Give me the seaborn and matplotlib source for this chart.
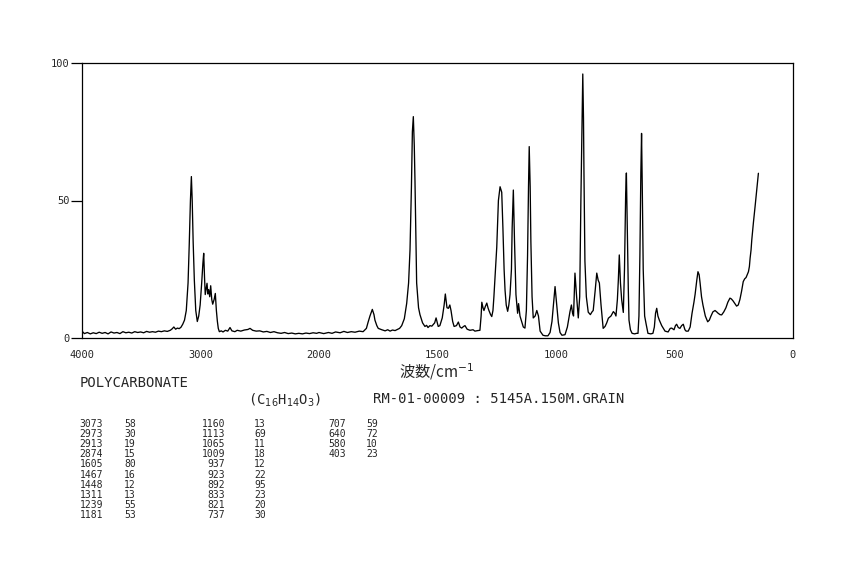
import numpy as np
import pandas as pd
import matplotlib
matplotlib.use("Agg")
import matplotlib.pyplot as plt
from matplotlib.ticker import FixedLocator
import seaborn as sns

# ---------------- data ----------------
wavenumber = [
    4000, 3980, 3955, 3930, 3905, 3880, 3855, 3830, 3805, 3780, 3755, 3730, 3705, 3680,
    3655, 3630, 3605, 3580, 3555, 3530, 3505, 3480, 3455, 3430, 3405, 3380, 3355, 3330,
    3305, 3280, 3255, 3240, 3225, 3210, 3195, 3180, 3165, 3150, 3135, 3120, 3105, 3095,
    3085, 3077, 3070, 3062, 3052, 3040, 3027, 3015, 3003, 2990, 2980, 2973, 2966, 2960,
    2952, 2945, 2938, 2931, 2922, 2914, 2905, 2897, 2885, 2875, 2866, 2858, 2850, 2841,
    2825, 2810, 2790, 2770, 2751, 2735, 2710, 2690, 2660, 2630, 2600, 2582, 2560, 2530,
    2500, 2470, 2440, 2410, 2380, 2350, 2320, 2290, 2260, 2230, 2200, 2170, 2140, 2110,
    2080, 2050, 2020, 2000, 1980, 1960, 1945, 1930, 1911, 1895, 1880, 1864, 1848, 1830,
    1814, 1800, 1793, 1785,
    1775, 1768, 1764, 1756, 1750, 1735, 1721, 1710, 1700, 1690, 1679, 1660, 1651, 1640,
    1630, 1622,
    1616, 1610, 1606, 1602, 1598, 1595, 1591, 1588, 1580, 1574, 1563, 1553, 1546, 1540,
    1532, 1524,
    1512, 1506, 1497, 1490, 1480, 1472, 1467, 1460, 1454, 1448, 1443, 1436, 1430, 1420,
    1412, 1405, 1398, 1390, 1384, 1375, 1363, 1350, 1342, 1330, 1321, 1316, 1313, 1308,
    1304, 1298, 1292, 1287, 1283, 1276, 1271, 1266, 1262, 1256, 1250, 1243, 1236, 1229,
    1224, 1219, 1215, 1210, 1204, 1199, 1194, 1188, 1185, 1180, 1175, 1169, 1162, 1158,
    1152, 1145, 1138, 1131, 1125, 1120, 1116, 1113, 1109, 1106, 1101, 1096, 1088, 1081,
    1074, 1067, 1055, 1045, 1034, 1025, 1017, 1010, 1004, 997, 990, 983, 975, 962,
    952, 941, 935, 930, 926, 920, 913, 906, 900, 895, 890, 887, 884, 882,
    878, 872, 864, 855, 848, 843, 835, 828, 822, 817, 810, 801, 793, 786,
    779, 768, 758, 752, 747, 741, 737, 733, 728, 723, 716, 711, 706, 703,
    699, 695, 692, 686, 679, 668, 660, 654, 650, 646, 642, 639, 636, 632,
    626, 620, 612, 600, 591, 585, 580, 575, 570, 564, 554, 540, 527, 518,
    512, 502, 496, 491, 484, 477, 470, 463, 456, 451, 442, 434, 426, 418,
    413, 406, 401, 396, 392, 386, 380, 370, 360, 353, 346, 338, 329, 322,
    316, 308, 301, 292, 283, 275, 266, 260, 253, 245, 238, 231, 224, 217,
    210, 204, 198, 193, 188, 184, 181, 177, 174, 167, 160, 153, 146,
]
intensity = [
    2.5, 1.6, 2.0, 1.5, 1.9, 1.6, 2.1, 1.7, 2.0, 1.5, 2.2, 1.8, 2.0, 1.6,
    2.3, 1.9, 2.1, 1.8, 2.3, 2.0, 2.2, 1.9, 2.4, 2.1, 2.3, 2.1, 2.5, 2.3,
    2.6, 2.4, 2.8, 3.3, 4.0, 3.2, 3.6, 3.4, 3.9, 5.0, 6.5, 10.0, 20.0, 34.0,
    50.0, 58.7, 50.0, 35.0, 21.0, 10.0, 6.0, 8.0, 12.0, 20.0, 27.0, 30.8, 22.0, 15.8,
    18.0, 19.9, 16.0, 17.6, 15.0, 19.0, 14.0, 12.3, 14.0, 16.2, 10.0, 6.2, 3.5, 2.3,
    2.6, 2.2, 2.8, 2.5, 3.8, 2.6, 2.3, 2.8, 2.5, 2.9, 3.1, 3.5, 2.8, 2.5,
    2.6, 2.2, 2.4, 2.0, 2.3, 1.9, 1.7, 2.0, 1.6, 1.8, 1.5, 1.7, 1.5, 1.8,
    1.6, 1.9, 1.7, 2.0, 1.6, 2.0, 1.7, 2.2, 1.9, 2.4, 2.0, 2.3, 2.1, 2.5,
    2.3, 3.5, 5.7, 8.0,
    10.4, 8.5, 6.5, 4.5, 3.5, 3.0, 2.6, 3.0, 2.5, 2.9, 2.7, 3.5, 4.5, 7.0,
    12.6, 20.0,
    32.0, 55.0, 75.0, 80.5, 70.0, 57.0, 35.0, 20.0, 11.0, 8.5, 5.5, 4.2, 4.6, 3.8,
    4.5, 4.3,
    5.5, 7.3, 4.2, 4.5, 7.3, 12.0, 16.0, 11.0, 10.8, 12.0, 10.0, 6.0, 4.2, 4.5,
    5.8, 4.0, 3.6, 4.2, 4.5, 3.2, 2.8, 3.0, 2.5, 2.7, 2.8, 8.0, 13.0, 11.0,
    10.0, 11.5, 12.7, 11.0, 10.0, 8.5, 7.8, 10.0, 15.0, 24.0, 33.0, 50.0, 55.0, 53.0,
    40.0, 25.0, 17.4, 12.0, 9.7, 12.0, 15.8, 25.0, 40.0, 53.8, 35.0, 15.8, 9.0, 12.5,
    8.0, 6.0, 4.0, 3.6, 10.0, 30.0, 55.0, 69.6, 55.0, 35.0, 15.0, 7.3, 8.0, 10.0,
    8.0, 2.5, 1.0, 0.8, 0.8, 2.0, 6.0, 13.0, 18.7, 12.0, 5.5, 2.0, 1.0, 1.2,
    4.0, 9.6, 12.0, 9.0, 8.0, 23.6, 15.0, 7.3, 15.0, 50.0, 80.0, 96.0, 80.0, 60.0,
    28.0, 15.0, 9.4, 8.5, 9.5, 10.0, 17.0, 23.6, 21.0, 20.0, 12.0, 3.5, 4.2, 5.5,
    7.2, 8.0, 9.6, 9.0, 8.0, 14.0, 21.0, 30.2, 20.0, 14.0, 9.3, 25.0, 52.6, 60.0,
    39.0, 18.0, 6.5, 3.0, 1.7, 1.5, 1.7, 1.7, 8.0, 30.0, 60.0, 74.4, 55.0, 25.0,
    8.0, 5.2, 1.7, 1.5, 1.7, 4.0, 9.0, 10.8, 8.0, 6.5, 4.5, 2.5, 2.2, 3.5,
    3.6, 3.0, 4.5, 5.0, 3.8, 3.5, 4.5, 5.0, 3.0, 2.5, 2.5, 4.0, 9.0, 13.0,
    15.9, 21.0, 24.1, 23.0, 20.0, 15.0, 12.0, 8.0, 5.9, 6.5, 8.0, 9.5, 10.0, 9.5,
    9.0, 8.5, 8.4, 9.5, 11.0, 13.0, 14.5, 14.2, 13.5, 12.5, 11.6, 12.0, 14.0, 17.0,
    20.5, 21.5, 22.0, 23.0, 24.1, 26.0, 29.0, 32.0, 35.6, 42.0, 47.8, 54.0, 59.9,
]

peak_wavenumbers = [3073, 2973, 2913, 2874, 1605, 1467, 1448, 1311, 1239, 1181,
                    1160, 1113, 1065, 1009, 937, 923, 892, 833, 821, 737,
                    707, 640, 580, 403]
peak_intensities = [58, 30, 19, 15, 80, 16, 12, 13, 55, 53,
                    13, 69, 11, 18, 12, 22, 95, 23, 20, 30,
                    59, 72, 10, 23]

x_major_ticks = [4000, 3000, 2000, 1500, 1000, 500, 0]
x_minor_ticks = list(range(0, 4001, 100))
y_ticks = [0, 50, 100]

compound_name = "POLYCARBONATE"
formula = r"(C$_{16}$H$_{14}$O$_{3}$)"
sample_info = "RM-01-00009 : 5145A.150M.GRAIN"
x_label = "波数/cm$^{-1}$"

# ---------------- figure ----------------
sns.set_style("white")
plt.rcParams["font.family"] = ["DejaVu Sans Mono", "Noto Sans CJK JP"]
plt.rcParams["mathtext.fontset"] = "dejavusans"

W, H = 850, 567
fig = plt.figure(figsize=(W / 100, H / 100), dpi=100)
L, R, T, B = 82, 793, 63, 338
ax = fig.add_axes([L / W, 1 - B / H, (R - L) / W, (B - T) / H])


def fwd(x):
    x = np.asarray(x, dtype=float)
    return np.where(x <= 2000, x, 2000 + (x - 2000) / 2.0)


def inv(u):
    u = np.asarray(u, dtype=float)
    return np.where(u <= 2000, u, 2000 + (u - 2000) * 2.0)


df = pd.DataFrame({"wn": wavenumber, "I": intensity})
sns.lineplot(data=df, x="wn", y="I", ax=ax, color="black", linewidth=0.95,
             estimator=None, sort=False)

ax.set_xscale("function", functions=(fwd, inv))
ax.set_xlim(4000, 0)
ax.set_ylim(0, 100)
ax.xaxis.set_major_locator(FixedLocator(x_major_ticks))
ax.xaxis.set_minor_locator(FixedLocator(x_minor_ticks))
ax.set_xticklabels([str(t) for t in x_major_ticks])
ax.set_yticks(y_ticks)
ax.set_yticklabels([str(t) for t in y_ticks])
ax.set_xlabel("")
ax.set_ylabel("")

for s in ax.spines.values():
    s.set_linewidth(0.9)
    s.set_color("black")

ax.tick_params(axis="x", which="major", direction="out", length=7, width=0.9,
               labelsize=7.5, pad=2, color="black")
ax.tick_params(axis="x", which="minor", direction="out", length=4, width=0.8,
               color="black")
ax.tick_params(axis="y", which="major", direction="out", length=8, width=0.9,
               labelsize=7.5, pad=1, color="black", left=True)


def px(x, y):
    return x / W, 1 - y / H


fig.text(*px(437, 372), x_label, ha="center", va="center", fontsize=11,
         family=["Noto Sans CJK JP", "DejaVu Sans"])
fig.text(*px(80, 383), compound_name, ha="left", va="center", fontsize=10)
fig.text(*px(248, 400), formula, ha="left", va="center", fontsize=10)
fig.text(*px(373, 399), sample_info, ha="left", va="center", fontsize=10)

# peak table: three column pairs of 10 rows
row_y0, row_dy = 424, 10.1
wn_right = [103, 225, 346]
int_left = [124, 254, 366]
for i, (w, v) in enumerate(zip(peak_wavenumbers, peak_intensities)):
    col, row = divmod(i, 10)
    y = row_y0 + row * row_dy
    fig.text(*px(wn_right[col], y), str(w), ha="right", va="center", fontsize=7)
    fig.text(*px(int_left[col], y), str(v), ha="left", va="center", fontsize=7)

fig.savefig("out.png", dpi=100, facecolor="white")
